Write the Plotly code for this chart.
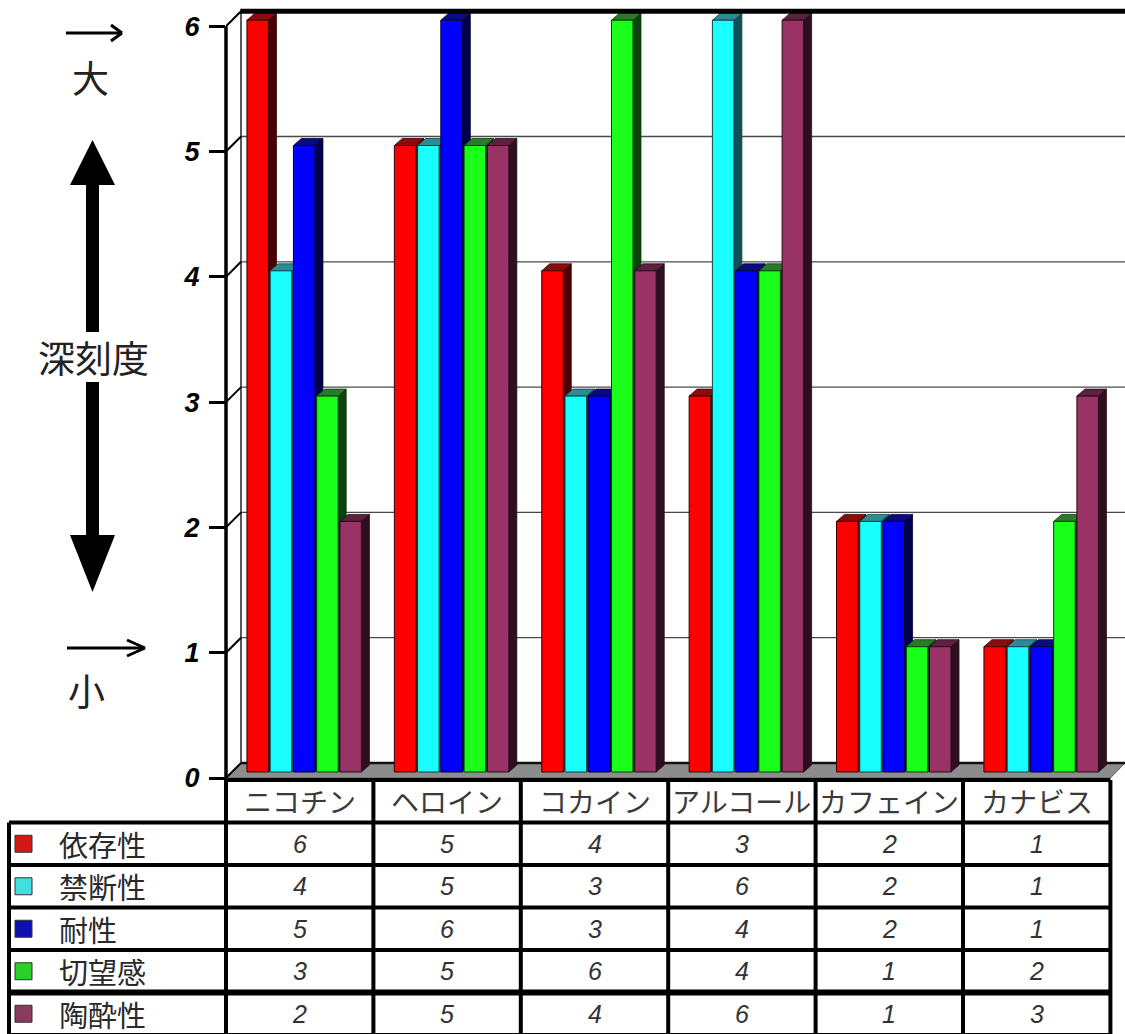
import plotly.graph_objects as go

# ---- data -------------------------------------------------------------
categories = ["ニコチン", "ヘロイン", "コカイン", "アルコール", "カフェイン", "カナビス"]
series_names = ["依存性", "禁断性", "耐性", "切望感", "陶酔性"]
dependence = [6, 5, 4, 3, 2, 1]
withdrawal = [4, 5, 3, 6, 2, 1]
tolerance = [5, 6, 3, 4, 2, 1]
craving = [3, 5, 6, 4, 1, 2]
intoxication = [2, 5, 4, 6, 1, 3]
y_ticks = [0, 1, 2, 3, 4, 5, 6]

series_values = [dependence, withdrawal, tolerance, craving, intoxication]

# ---- styling ----------------------------------------------------------
face_colors = ["#ff0000", "#19ffff", "#0000ff", "#19ff19", "#993366"]
top_colors = ["#8e0b0b", "#2c8c96", "#0b0b80", "#2b7a2b", "#5e1f40"]
side_colors = ["#4a0000", "#0f4f58", "#00004a", "#0a440a", "#2e0f1f"]
edge_colors = ["#3a0000", "#0d4048", "#00003a", "#0a3a0a", "#240a18"]
swatch_colors = ["#d41818", "#40e0e0", "#1010b0", "#28d028", "#8a3a5e"]

W, H = 1125, 1034
PLOT_LEFT = 226          # left edge of plotting area (px)
PLOT_BOTTOM = 781        # bottom edge of plotting area (px)
CAT_PX = 147.4           # pixels per category
VAL_PX = 125.3           # pixels per value unit
BAR_ZERO_PX = 772        # where value 0 sits in the bar plane
FRONT_SHIFT = 6          # front plane sits this many px below bar plane
WALL_SHIFT = 9           # back wall sits this many px above bar plane
WALL_DX = 15             # back wall horizontal depth (px)
BAR_DX, BAR_DY = 8, 7    # depth of each bar (px)

n_cat = len(categories)
x_lo = -0.5
x_hi = x_lo + (W - PLOT_LEFT) / CAT_PX
y_lo = (BAR_ZERO_PX - PLOT_BOTTOM) / VAL_PX
y_hi = BAR_ZERO_PX / VAL_PX
y2_lo = (BAR_ZERO_PX + FRONT_SHIFT - PLOT_BOTTOM) / VAL_PX
y2_hi = (BAR_ZERO_PX + FRONT_SHIFT) / VAL_PX

dx = BAR_DX / CAT_PX
dy = BAR_DY / VAL_PX
wall_dy = WALL_SHIFT / VAL_PX
front_dy = FRONT_SHIFT / VAL_PX
wall_x = x_lo + WALL_DX / CAT_PX

bar_width = 0.146
bar_pitch = 0.1577
first_offset = -0.358


def paper_x(px):
    return (px - PLOT_LEFT) / (W - PLOT_LEFT)


def paper_y(py):
    return (PLOT_BOTTOM - py) / PLOT_BOTTOM


def cat_px(xv):
    return PLOT_LEFT + (xv - x_lo) * CAT_PX


fig = go.Figure()
shapes = []
annotations = []

# ---- floor and back wall ---------------------------------------------
floor_path = (
    f"M {x_lo},{-front_dy} L {x_lo + n_cat},{-front_dy} "
    f"L {x_hi},{wall_dy} L {wall_x},{wall_dy} Z"
)
shapes.append(dict(type="path", path=floor_path, xref="x", yref="y",
                   fillcolor="#8c8c8c", line=dict(color="#5a5a5a", width=1),
                   layer="below"))
shapes.append(dict(type="line", xref="x", yref="y",
                   x0=wall_x, x1=x_hi, y0=wall_dy, y1=wall_dy,
                   line=dict(color="#111", width=2.5), layer="below"))
for v in y_ticks[1:-1]:
    shapes.append(dict(type="line", xref="x", yref="y",
                       x0=wall_x, x1=x_hi, y0=v + wall_dy, y1=v + wall_dy,
                       line=dict(color="#4a4a4a", width=1.3), layer="below"))
shapes.append(dict(type="line", xref="x", yref="y",
                   x0=wall_x, x1=wall_x, y0=wall_dy, y1=y_ticks[-1] + wall_dy,
                   line=dict(color="#222", width=1.5), layer="below"))

# ---- bars: front faces as bar traces, depth faces as shapes ------------
for j, (name, vals) in enumerate(zip(series_names, series_values)):
    off = first_offset + bar_pitch * j
    fig.add_trace(go.Bar(
        x=list(range(n_cat)), y=vals, name=name,
        offset=off, width=bar_width,
        customdata=categories,
        hovertemplate="%{customdata}<br>" + name + ": %{y}<extra></extra>",
        marker=dict(color=face_colors[j],
                    line=dict(color=edge_colors[j], width=1)),
        showlegend=False,
    ))
    for i, v in enumerate(vals):
        x0 = i + off
        x1 = x0 + bar_width
        side = (f"M {x1},0 L {x1 + dx},{dy} L {x1 + dx},{v + dy} "
                f"L {x1},{v} Z")
        top = (f"M {x0},{v} L {x0 + dx},{v + dy} L {x1 + dx},{v + dy} "
               f"L {x1},{v} Z")
        shapes.append(dict(type="path", path=side, xref="x", yref="y",
                           fillcolor=side_colors[j],
                           line=dict(color=edge_colors[j], width=0.8),
                           layer="below"))
        shapes.append(dict(type="path", path=top, xref="x", yref="y",
                           fillcolor=top_colors[j],
                           line=dict(color=edge_colors[j], width=0.8),
                           layer="below"))

# ---- frame: top border, axis line and depth connectors -----------------
shapes.append(dict(type="line", xref="x", yref="y",
                   x0=wall_x - 0.005, x1=x_hi,
                   y0=y_ticks[-1] + wall_dy, y1=y_ticks[-1] + wall_dy,
                   line=dict(color="black", width=5)))
for v in y_ticks:
    shapes.append(dict(type="line", xref="x", yref="y",
                       x0=x_lo, x1=wall_x, y0=v - front_dy, y1=v + wall_dy,
                       line=dict(color="black", width=2)))
shapes.append(dict(type="line", xref="paper", yref="y2",
                   x0=0, x1=0, y0=y_ticks[-1], y1=y2_lo,
                   line=dict(color="black", width=3.5)))

# ---- data table --------------------------------------------------------
col_edges = [cat_px(x_lo + k) for k in range(n_cat + 1)]
header_top, header_bottom = 780, 822.5
row_h = 42.5
row_edges = [header_bottom + row_h * r for r in range(len(series_names) + 1)]
legend_left = 9
lw = 4

# horizontal rules
shapes.append(dict(type="line", xref="paper", yref="paper",
                   x0=paper_x(col_edges[0]), x1=paper_x(col_edges[-1]),
                   y0=paper_y(header_top), y1=paper_y(header_top),
                   line=dict(color="black", width=lw)))
for r, yv in enumerate(row_edges):
    shapes.append(dict(type="line", xref="paper", yref="paper",
                       x0=paper_x(legend_left), x1=paper_x(col_edges[-1]),
                       y0=paper_y(yv), y1=paper_y(yv),
                       line=dict(color="black", width=6 if r == 4 else lw)))
# vertical rules
shapes.append(dict(type="line", xref="paper", yref="paper",
                   x0=paper_x(legend_left), x1=paper_x(legend_left),
                   y0=paper_y(header_bottom), y1=paper_y(row_edges[-1]),
                   line=dict(color="black", width=lw)))
for k, xe in enumerate(col_edges):
    shapes.append(dict(type="line", xref="paper", yref="paper",
                       x0=paper_x(xe), x1=paper_x(xe),
                       y0=paper_y(header_top - (2 if k == 0 else 0)),
                       y1=paper_y(row_edges[-1]),
                       line=dict(color="black", width=lw)))

# header labels
for i, cat in enumerate(categories):
    annotations.append(dict(
        x=paper_x(cat_px(i)), y=paper_y((header_top + header_bottom) / 2),
        xref="paper", yref="paper", text=cat, showarrow=False,
        xanchor="center", yanchor="middle",
        font=dict(family="Noto Sans CJK JP", size=28, color="#3a3a3a")))

# legend column and values
for r, (name, vals) in enumerate(zip(series_names, series_values)):
    yc = (row_edges[r] + row_edges[r + 1]) / 2
    shapes.append(dict(type="rect", xref="paper", yref="paper",
                       x0=paper_x(15), x1=paper_x(32),
                       y0=paper_y(yc - 8.5), y1=paper_y(yc + 8.5),
                       fillcolor=swatch_colors[r],
                       line=dict(color="#333", width=1)))
    annotations.append(dict(
        x=paper_x(57), y=paper_y(yc), xref="paper", yref="paper",
        text=name, showarrow=False, xanchor="left", yanchor="middle",
        font=dict(family="Noto Sans CJK JP", size=29, color="#2a2a2a")))
    for i, v in enumerate(vals):
        annotations.append(dict(
            x=paper_x(cat_px(i)), y=paper_y(yc), xref="paper", yref="paper",
            text=str(v), showarrow=False, xanchor="center", yanchor="middle",
            font=dict(family="Liberation Sans", size=25, color="#333",
                      style="italic")))

# ---- severity scale on the left ----------------------------------------
def px_path(points):
    pts = " L ".join(f"{paper_x(a)},{paper_y(b)}" for a, b in points)
    return "M " + pts + " Z"


def px_line(x0, y0, x1, y1, width):
    return dict(type="line", xref="paper", yref="paper",
                x0=paper_x(x0), x1=paper_x(x1), y0=paper_y(y0), y1=paper_y(y1),
                line=dict(color="black", width=width))


# small arrows beside 大 / 小
shapes += [px_line(66, 33, 121, 33, 3), px_line(111, 25, 122, 33, 3),
           px_line(111, 41, 122, 33, 3)]
shapes += [px_line(67, 648, 143, 648, 3), px_line(127, 640, 145, 648, 3),
           px_line(127, 656, 145, 648, 3)]

# big double-headed arrow
shapes.append(dict(type="path", xref="paper", yref="paper",
                   path=px_path([(92.5, 140), (115, 185), (70, 185)]),
                   fillcolor="black", line=dict(width=0)))
shapes.append(dict(type="path", xref="paper", yref="paper",
                   path=px_path([(86, 184), (99, 184), (99, 332), (86, 332)]),
                   fillcolor="black", line=dict(width=0)))
shapes.append(dict(type="path", xref="paper", yref="paper",
                   path=px_path([(86, 382), (99, 382), (99, 536), (86, 536)]),
                   fillcolor="black", line=dict(width=0)))
shapes.append(dict(type="path", xref="paper", yref="paper",
                   path=px_path([(70, 535), (115, 535), (92.5, 592)]),
                   fillcolor="black", line=dict(width=0)))

for txt, cx, cy in [("大", 90, 77), ("深刻度", 93, 357), ("小", 86, 690)]:
    annotations.append(dict(
        x=paper_x(cx), y=paper_y(cy), xref="paper", yref="paper",
        text=txt, showarrow=False, xanchor="center", yanchor="middle",
        font=dict(family="Noto Sans CJK JP", size=37, color="#222")))

# ---- layout ------------------------------------------------------------
fig.update_layout(
    width=W, height=H,
    margin=dict(l=PLOT_LEFT, r=0, t=0, b=H - PLOT_BOTTOM, pad=0),
    paper_bgcolor="white", plot_bgcolor="white",
    barmode="overlay",
    showlegend=False,
    shapes=shapes,
    annotations=annotations,
    xaxis=dict(range=[x_lo, x_hi], showgrid=False, zeroline=False,
               showline=False, showticklabels=False, ticks="",
               fixedrange=True),
    yaxis=dict(range=[y_lo, y_hi], showgrid=False, zeroline=False,
               showline=False, showticklabels=False, ticks="",
               fixedrange=True),
    yaxis2=dict(range=[y2_lo, y2_hi], overlaying="y", anchor="x",
                side="left", showgrid=False, zeroline=False, showline=False,
                tickmode="array", tickvals=y_ticks,
                ticktext=[str(v) for v in y_ticks],
                ticks="outside", ticklen=16, tickwidth=3, tickcolor="black",
                ticklabelstandoff=4,
                tickfont=dict(family="Arial", size=27, color="black",
                              weight="bold", style="italic"),
                fixedrange=True),
)

fig.write_html("out.html")
